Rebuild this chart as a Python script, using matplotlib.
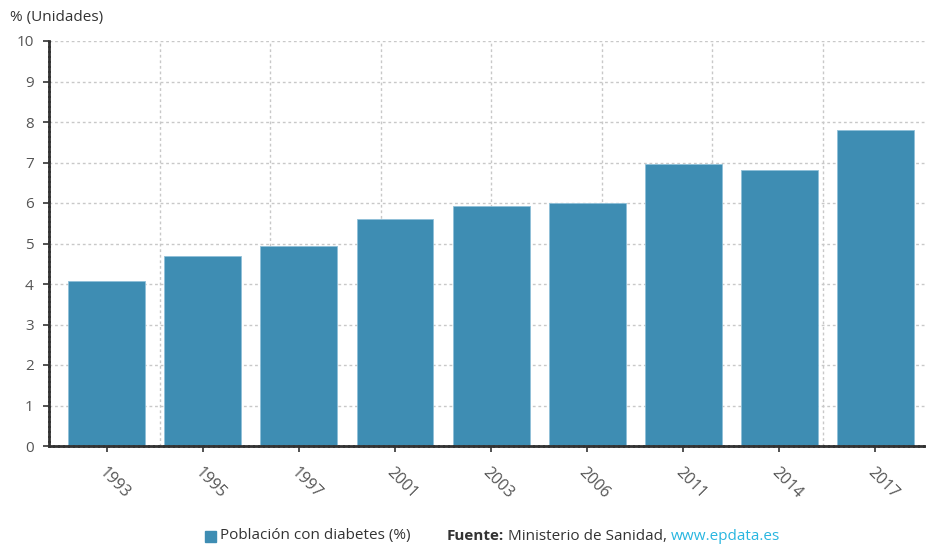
import matplotlib
matplotlib.use("Agg")
import matplotlib.pyplot as plt
from matplotlib.patches import Rectangle

years = ["1993", "1995", "1997", "2001", "2003", "2006", "2011", "2014", "2017"]
values = [4.08, 4.68, 4.95, 5.6, 5.92, 6.0, 6.96, 6.81, 7.8]
y_ticks = list(range(0, 11))

BAR = "#3e8db3"
TXT = "#555555"
FONT = ["Open Sans", "DejaVu Sans"]
plt.rcParams["font.family"] = FONT

fig = plt.figure(figsize=(9.26, 5.47), dpi=100)
W, H = 926, 547
left, right, bottom, top = 49, 926, 446, 41
ax = fig.add_axes([left / W, 1 - bottom / H, (right - left) / W, (bottom - top) / H])

x = list(range(len(years)))
ax.bar(x, values, width=0.8, color=BAR, zorder=3, edgecolor="#8fc0d8", linewidth=0.6)

x0 = -0.6
x1 = x0 + (right - left) / 96.1
ax.set_xlim(x0, x1)
ax.set_ylim(0, 10)

# grids
for yv in y_ticks[1:]:
    ax.axhline(yv, color="#c8c8c8", linestyle=(0, (2, 2)), linewidth=1, zorder=1)
for k in range(1, 8):
    ax.axvline(x0 + 1.15 * k, color="#c8c8c8", linestyle=(0, (2, 2)), linewidth=1, zorder=1)

ax.set_yticks(y_ticks)
ax.set_yticklabels([str(v) for v in y_ticks], color=TXT, fontsize=11)
ax.set_xticks(x)
ax.set_xticklabels(years, rotation=-45, ha="left", va="top", rotation_mode="anchor",
                   color=TXT, fontsize=11.5)
ax.tick_params(axis="y", length=4, width=1.2, color="#333333", pad=7)
ax.tick_params(axis="x", length=4, width=1.2, color="#333333", pad=9)

for s in ["top", "right"]:
    ax.spines[s].set_visible(False)
for s in ["left", "bottom"]:
    ax.spines[s].set_color("#333333")
    ax.spines[s].set_linewidth(2)
    ax.spines[s].set_linestyle((0, (1.2, 0.6)))
    ax.spines[s].set_zorder(4)

fig.text(10 / W, 1 - 18 / H, "% (Unidades)", fontsize=11, color="#333333", va="center", ha="left")

# legend / source line
ly = 1 - 536 / H
fig.patches.append(Rectangle((205 / W, 1 - 542 / H), 11 / W, 11 / H, transform=fig.transFigure,
                             color=BAR, figure=fig))
fig.text(220 / W, ly, "Población con diabetes (%)", fontsize=11, color="#333333", va="center", ha="left")

fig.canvas.draw()
r = fig.canvas.get_renderer()
pieces = [("Fuente:", "bold", "#333333"), (" Ministerio de Sanidad, ", "normal", "#333333"),
          ("www.epdata.es", "normal", "#29b6e0")]
xp = 447
for s, wgt, col in pieces:
    t = fig.text(xp / W, ly, s, fontsize=11, color=col, fontweight=wgt, va="center", ha="left")
    bb = t.get_window_extent(renderer=r)
    xp += bb.width
    if s.endswith(" "):
        pass

fig.savefig("out.png", dpi=100)
